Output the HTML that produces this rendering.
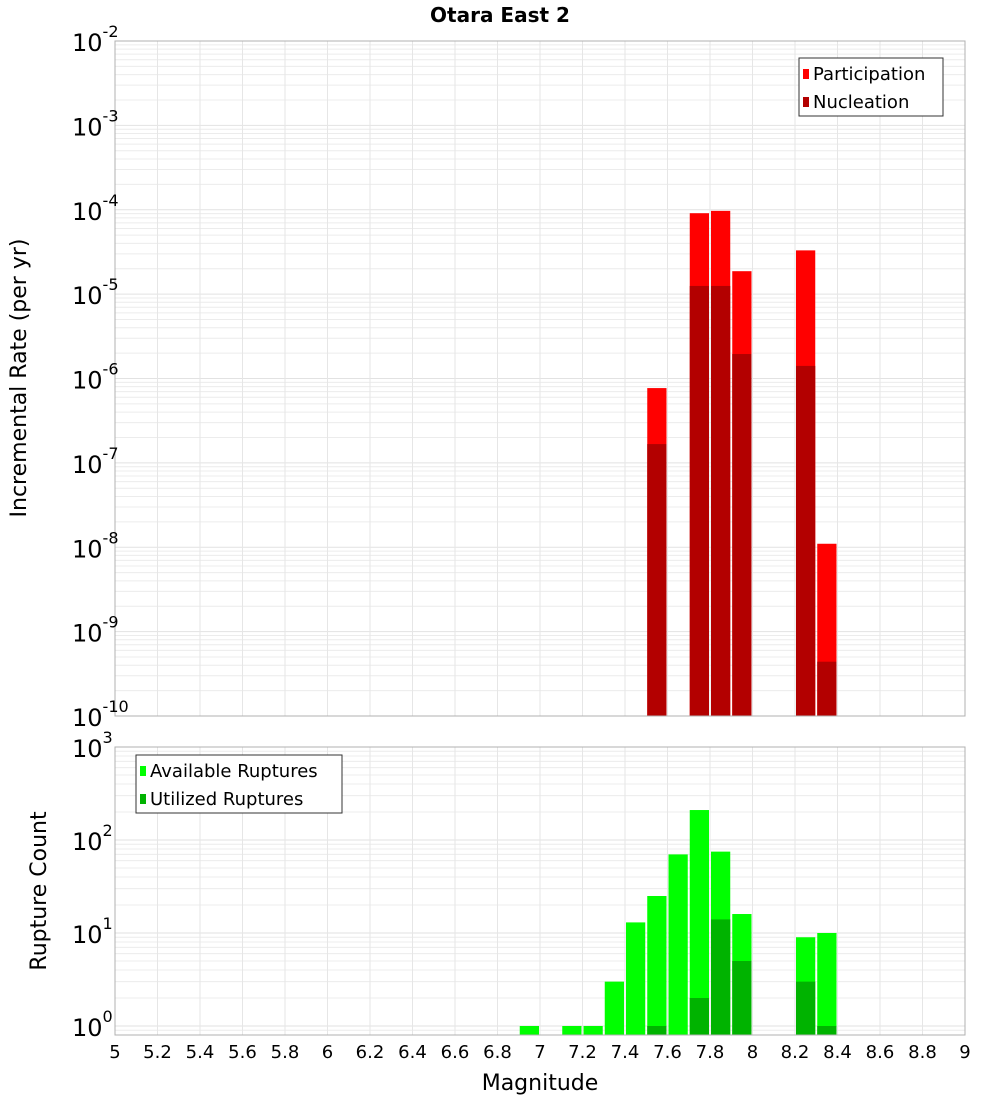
<!DOCTYPE html>
<html><head><meta charset="utf-8"><style>
body{margin:0;background:#fff;}
svg text{font-family:"DejaVu Sans","Liberation Sans",sans-serif;}
</style></head><body>
<svg id="c" width="1000" height="1100" xmlns="http://www.w3.org/2000/svg">
<text x="500" y="22" text-anchor="middle" font-size="20" font-weight="bold">Otara East 2</text>
<text transform="translate(26,378) rotate(-90)" text-anchor="middle" font-size="22">Incremental Rate (per yr)</text>
<text transform="translate(46,891) rotate(-90)" text-anchor="middle" font-size="22">Rupture Count</text>
<text x="540" y="1090" text-anchor="middle" font-size="22">Magnitude</text>
<g id="g"></g>
</svg>
<script>
const binStarts=[6.9,7.0,7.1,7.2,7.3,7.4,7.5,7.6,7.7,7.8,7.9,8.0,8.1,8.2,8.3];
const participation=[0,0,0,0,0,0,7.7e-7,0,9.1e-5,9.7e-5,1.87e-5,0,0,3.3e-5,1.1e-8];
const nucleation=[0,0,0,0,0,0,1.67e-7,0,1.25e-5,1.25e-5,1.95e-6,0,0,1.41e-6,4.4e-10];
const available=[1,0,1,1,3,13,25,70,210,75,16,0,0,9,10];
const utilized=[0,0,0,0,0,0,1,0,2,14,5,0,0,3,1];
const xTicks=[5,5.2,5.4,5.6,5.8,6,6.2,6.4,6.6,6.8,7,7.2,7.4,7.6,7.8,8,8.2,8.4,8.6,8.8,9];
const topExps=[-2,-3,-4,-5,-6,-7,-8,-9,-10];
const botExps=[3,2,1,0];

const NS="http://www.w3.org/2000/svg";
const g=document.getElementById('g');
function el(t,a,txt){const e=document.createElementNS(NS,t);for(const k in a)e.setAttribute(k,a[k]);if(txt!==undefined)e.textContent=txt;g.appendChild(e);return e;}
const X0=115,X1=965;
const xs=m=>X0+(m-5)/4*(X1-X0);
const T0=41,T1=716;
const yTop=v=>T0+(-2-Math.log10(v))*(T1-T0)/8;
const B0=747,BD=93,B1=1035;
const yBot=v=>B0+(3-Math.log10(v))*BD;

// grids
function grid(top,bot,yf,dmin,dmax){
  for(let d=dmin;d<dmax;d++)for(let k=1;k<10;k++){const y=yf(k*Math.pow(10,d));if(y<top-0.5||y>bot)continue;
    const l=el('line',{x1:X0,x2:X1,y1:y,y2:y,stroke:k==1?'#e2e2e2':'#ececec','stroke-width':1});
    }
  xTicks.forEach(t=>{const x=xs(t);const l=el('line',{x1:x,x2:x,y1:top,y2:bot,stroke:'#e6e6e6'});
    });
}
grid(T0,T1,yTop,-10,-2);
grid(B0,B1,yBot,-1,3);

function bars(vals,yf,base,color,name){
  binStarts.forEach((b,i)=>{const v=vals[i];if(!v)return;const x=xs(b)+1,w=xs(b+0.1)-xs(b)-2;const y=yf(v);
    const r=el('rect',{x:x,y:y,width:w,height:base-y,fill:color});
    });
}
bars(participation,yTop,T1,'#ff0000','participation');
bars(nucleation,yTop,T1,'#b30000','nucleation');
bars(available,yBot,B1,'#00ff00','available');
bars(utilized,yBot,B1,'#00b300','utilized');

// frames
[[T0,T1],[B0,B1]].forEach(([a,b],i)=>{const r=el('rect',{x:X0,y:a,width:X1-X0,height:b-a,fill:'none',stroke:'#b0b0b0'});
  });

// y labels
function ylab(e,y,name){const t=el('text',{x:72,y:y+10,'font-size':24});
  
  t.textContent='10';const s=document.createElementNS(NS,'tspan');s.setAttribute('dy','-14');s.setAttribute('font-size','16');s.textContent=e;t.appendChild(s);}
topExps.forEach(e=>ylab(e,yTop(Math.pow(10,e)),'top-y-tick-label'));
botExps.forEach(e=>ylab(e,yBot(Math.pow(10,e)),'bottom-y-tick-label'));
// x labels
xTicks.forEach(t=>{const l=el('text',{x:xs(t),y:1058,'text-anchor':'middle','font-size':18},String(t));
  });

// legends
function legend(x,y,w,items,name){const r=el('rect',{x:x,y:y,width:w,height:58,fill:'#fff',stroke:'#333'});
  
  items.forEach((it,i)=>{const s=el('rect',{x:x+4,y:y+11+i*28,width:6,height:10,fill:it[1]});
    
    const t=el('text',{x:x+14,y:y+22+i*28,'font-size':18},it[0]);
    });}
legend(799,58,144,[['Participation','#ff0000'],['Nucleation','#b30000']],'top-legend');
legend(136,755,206,[['Available Ruptures','#00ff00'],['Utilized Ruptures','#00b300']],'bottom-legend');
</script>
</body></html>
